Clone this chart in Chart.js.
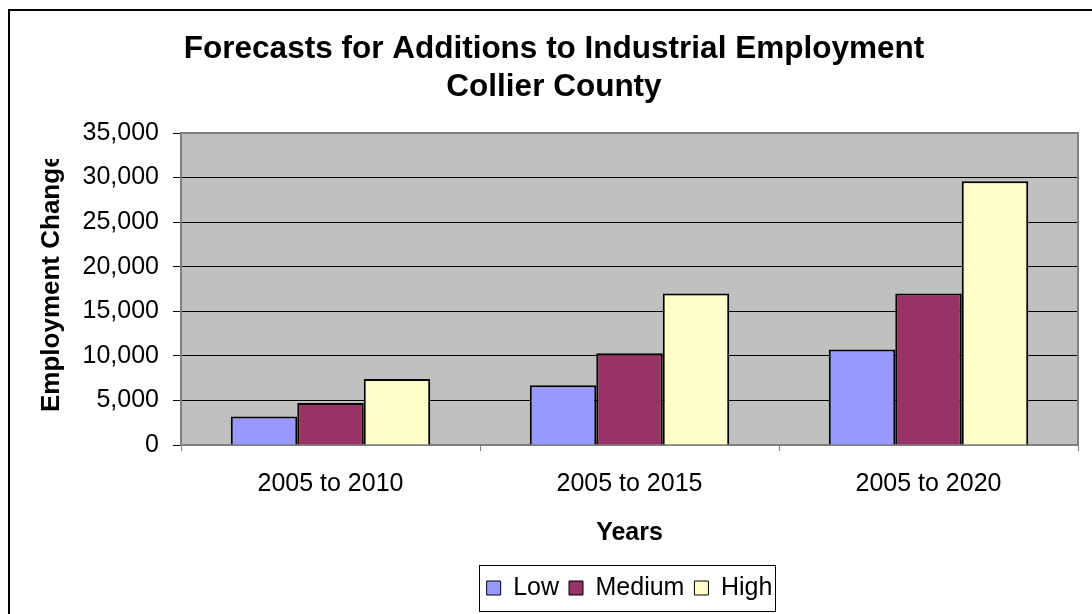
<!DOCTYPE html>
<html>
<head>
<meta charset="utf-8">
<script src="https://cdn.jsdelivr.net/npm/chart.js@4.4.0/dist/chart.umd.min.js"></script>
<style>
html, body { margin: 0; padding: 0; background: #fff; overflow: hidden; }
#wrap { width: 1092px; height: 614px; }
</style>
</head>
<body>
<div id="wrap"><canvas id="chart"></canvas></div>
<script>
const titleLines = ["Forecasts for Additions to Industrial Employment", "Collier County"];
const categories = ["2005 to 2010", "2005 to 2015", "2005 to 2020"];
const lowValues = [3200, 6700, 10700];
const mediumValues = [4700, 10300, 17000];
const highValues = [7400, 17000, 29600];
const yTicks = [0, 5000, 10000, 15000, 20000, 25000, 30000, 35000];
const yTitle = "Employment Change";
const xTitle = "Years";

Chart.defaults.font.family = "'Liberation Sans', Arial, sans-serif";
Chart.defaults.color = "#000";

// plot background, outer frame, clipped y title, legend box
const frame = {
    id: "frame",
    beforeDraw(chart) {
        const { ctx, chartArea: a } = chart;
        ctx.save();
        ctx.fillStyle = "#fff";
        ctx.fillRect(0, 0, chart.width, chart.height);
        ctx.strokeStyle = "#000";
        ctx.lineWidth = 2;
        ctx.strokeRect(9, 10, 2000, 2000);
        ctx.fillStyle = "#c0c0c0";
        ctx.fillRect(a.left, a.top, a.right - a.left, a.bottom - a.top);
        ctx.restore();
    },
    beforeDatasetsDraw(chart) {
        const { ctx, chartArea: a } = chart;
        ctx.save();
        ctx.strokeStyle = "#808080";
        ctx.lineWidth = 2;
        ctx.strokeRect(a.left, a.top, a.right - a.left, a.bottom - a.top);
        ctx.restore();
    },
    afterDraw(chart) {
        const ctx = chart.ctx;
        ctx.save();
        ctx.beginPath();
        ctx.rect(0, 159, 180, 455);
        ctx.clip();
        ctx.translate(52, 412);
        ctx.rotate(-Math.PI / 2);
        ctx.font = "bold 26px 'Liberation Sans', Arial, sans-serif";
        ctx.fillStyle = "#000";
        ctx.textAlign = "left";
        ctx.textBaseline = "middle";
        ctx.fillText(yTitle, 0, 0);
        ctx.restore();

        const boxes = chart.legend.legendHitBoxes;
        if (boxes && boxes.length) {
            const first = boxes[0], last = boxes[boxes.length - 1];
            const cy = first.top + first.height / 2;
            const l = Math.round(first.left - 8) + 0.5;
            const r = Math.round(last.left + last.width + 3) + 0.5;
            ctx.save();
            ctx.strokeStyle = "#000";
            ctx.lineWidth = 1;
            ctx.strokeRect(l, Math.round(cy - 23) + 0.5, r - l, 46);
            ctx.restore();
        }
    }
};

new Chart(document.getElementById("chart"), {
    type: "bar",
    data: {
        labels: categories,
        datasets: [
            { label: "Low", data: lowValues, backgroundColor: "#9999ff" },
            { label: "Medium", data: mediumValues, backgroundColor: "#993366" },
            { label: "High", data: highValues, backgroundColor: "#ffffcc" }
        ]
    },
    options: {
        responsive: true,
        maintainAspectRatio: false,
        animation: false,
        layout: { padding: { left: 30, right: 14, top: 0, bottom: 3.5 } },
        datasets: { bar: { borderColor: "#000", borderWidth: 2, categoryPercentage: 0.667, barPercentage: 1 } },
        plugins: {
            tooltip: { enabled: false },
            title: {
                display: true, text: titleLines, color: "#000",
                font: { size: 31.5, weight: "bold", lineHeight: 1.2 },
                padding: { top: 30.6, bottom: 26.8 }
            },
            legend: {
                position: "bottom", fullSize: false,
                labels: {
                    boxWidth: 14, boxHeight: 14, padding: 10, color: "#000",
                    font: { size: 25 },
                    generateLabels: c => Chart.defaults.plugins.legend.labels.generateLabels(c)
                        .map(l => Object.assign(l, { lineWidth: 1 }))
                }
            }
        },
        scales: {
            x: {
                grid: { offset: true, drawOnChartArea: false, tickLength: 6, color: "#808080", lineWidth: 1 },
                border: { color: "#808080", width: 2 },
                ticks: { font: { size: 25 }, color: "#000", padding: 18, maxRotation: 0 },
                title: { display: true, text: xTitle, color: "#000", font: { size: 25, weight: "bold" }, padding: { top: 0, bottom: 17.5 } },
                afterFit: s => { s.height = 120.5; }
            },
            y: {
                min: yTicks[0],
                max: yTicks[yTicks.length - 1],
                afterBuildTicks: s => { s.ticks = yTicks.map(v => ({ value: v })); },
                grid: {
                    color: c => (c.tick && (c.tick.value === 35000 || c.tick.value === 0)) ? "rgba(0,0,0,0)" : "#000",
                    tickColor: "#000", tickLength: 8, lineWidth: 1
                },
                border: { color: "#808080", width: 2 },
                ticks: { font: { size: 25 }, color: "#000", padding: 14, callback: v => v.toLocaleString("en-US") },
                afterFit: s => { s.width = 151; }
            }
        }
    },
    plugins: [frame]
});
</script>
</body>
</html>
